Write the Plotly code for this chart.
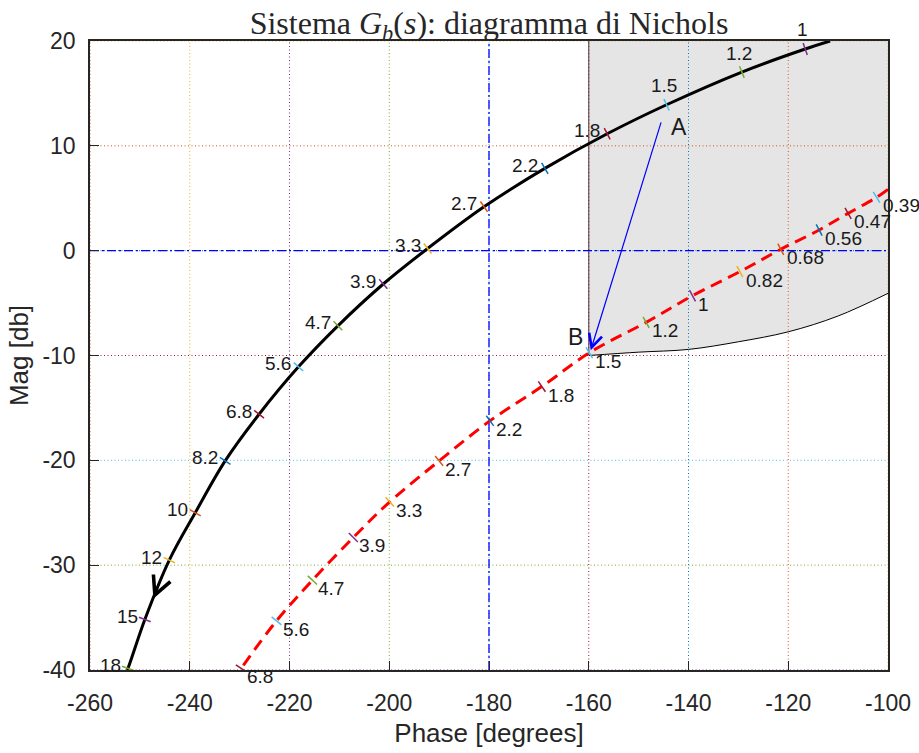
import math
import plotly.graph_objects as go

# ---------------- data ----------------
# black curve: frequency labels / phase [deg] / magnitude [dB]
black_freq = ["1", "1.2", "1.5", "1.8", "2.2", "2.7", "3.3", "3.9", "4.7", "5.6",
              "6.8", "8.2", "10", "12", "15", "18"]
black_phase = [-116.6, -129.3, -144.4, -156.3, -168.8, -181.0, -192.3, -201.2, -210.3,
               -218.2, -226.1, -232.9, -238.9, -244.1, -249.0, -252.4]
black_mag = [19.24, 17.04, 13.92, 11.15, 7.85, 4.19, 0.21, -3.18, -7.17, -11.08,
             -15.6, -20.05, -25.0, -29.52, -35.18, -39.84]
black_top_end = [-111.6, 20.0]
black_bottom_end = [-252.6, -40.0]

# red dashed curve
red_freq = ["0.39", "0.47", "0.56", "0.68", "0.82", "1", "1.2", "1.5", "1.8", "2.2",
            "2.7", "3.3", "3.9", "4.7", "5.6", "6.8"]
red_phase = [-102.3, -108.0, -113.8, -121.5, -129.7, -139.2, -148.5, -159.9, -169.4,
             -179.8, -190.0, -199.9, -207.2, -215.4, -222.6, -229.7]
red_mag = [5.09, 3.56, 1.97, 0.13, -2.0, -4.3, -6.84, -9.74, -12.96, -16.23,
           -20.05, -23.96, -27.36, -31.43, -35.31, -39.84]
red_right_end = [-100.0, 5.85]

# grey admissible region: lower boundary
region_phase = [-160, -150, -140, -130, -120, -110, -100]
region_mag = [-10.0, -9.68, -9.42, -8.69, -7.74, -6.23, -4.07]
region_top = 20

# points A and B, direction arrow on the black curve
A_point = [-144.9, 13.16]
B_point = [-159.6, -9.5]
A_label = [-141.95, 11.75]
B_label = [-162.7, -8.2]
dir_arrow_tip = [-247.3, -33.2]
dir_arrow_tail = [-244.6, -30.1]

x_ticks = [-260, -240, -220, -200, -180, -160, -140, -120, -100]
y_ticks = [20, 10, 0, -10, -20, -30, -40]

# ---------------- style ----------------
MC = ["#0072BD", "#D95319", "#EDB120", "#7E2F8E", "#77AC30", "#4DBEEE", "#A2142F"]
TXT = "#262626"
W, H = 919, 753
ML, MR, MT, MB = 90, 31, 41, 83
X0, X1, Y0, Y1 = -260, -100, -40, 20
kx = (W - ML - MR) / (X1 - X0)
ky = (H - MT - MB) / (Y1 - Y0)

fig = go.Figure()

# grey region: top edge, then lower boundary filled up to it
fig.add_trace(go.Scatter(x=[region_phase[0], region_phase[-1]], y=[region_top, region_top],
                         mode="lines", line=dict(width=0), hoverinfo="skip"))
fig.add_trace(go.Scatter(x=region_phase, y=region_mag, mode="lines", line_shape="spline",
                         fill="tonexty", fillcolor="#e5e5e5",
                         line=dict(color="black", width=1), hoverinfo="skip"))
fig.add_trace(go.Scatter(x=[region_phase[0], region_phase[0]], y=[region_mag[0], region_top],
                         mode="lines", line=dict(color="#5a5a5a", width=1.2), hoverinfo="skip"))

# coloured dotted grid lines (MATLAB colour cycle)
for i, xv in enumerate(x_ticks):
    fig.add_trace(go.Scatter(x=[xv, xv], y=[Y0, Y1], mode="lines",
                             line=dict(color=MC[(i + 1) % 7], width=1, dash="1px,2.5px"),
                             hoverinfo="skip"))
for i, yv in enumerate(y_ticks):
    fig.add_trace(go.Scatter(x=[X0, X1], y=[yv, yv], mode="lines",
                             line=dict(color=MC[(2 - i) % 7], width=1, dash="1px,2.5px"),
                             hoverinfo="skip"))

# blue dash-dot reference lines (-180 deg, 0 dB)
fig.add_trace(go.Scatter(x=[-180, -180], y=[Y0, Y1], mode="lines",
                         line=dict(color="#0000FF", width=1.3, dash="9px,3px,2px,3px"),
                         hoverinfo="skip"))
fig.add_trace(go.Scatter(x=[X0, X1], y=[0, 0], mode="lines",
                         line=dict(color="#0000FF", width=1.3, dash="9px,3px,2px,3px"),
                         hoverinfo="skip"))

# curves
rx = [red_right_end[0]] + red_phase
ry = [red_right_end[1]] + red_mag
fig.add_trace(go.Scatter(x=rx, y=ry, mode="lines", line_shape="spline",
                         line=dict(color="#FF0000", width=3, dash="12px,7px"),
                         hoverinfo="skip"))
bx = [black_top_end[0]] + black_phase + [black_bottom_end[0]]
by = [black_top_end[1]] + black_mag + [black_bottom_end[1]]
fig.add_trace(go.Scatter(x=bx, y=by, mode="lines", line_shape="spline",
                         line=dict(color="black", width=3), hoverinfo="skip"))


def tick_angles(xs, ys):
    ang = []
    for i in range(1, len(xs) - 1):
        dx = (xs[i + 1] - xs[i - 1]) * kx
        dy = -(ys[i + 1] - ys[i - 1]) * ky
        ang.append(math.degrees(math.atan2(dy, dx)))
    return ang


b_ang = tick_angles(bx, by)
r_ang = tick_angles(rx + [red_phase[-1] - 5], ry + [-44])
b_col = [MC[(3 + i) % 7] for i in range(len(black_freq))]
r_col = [MC[(5 + i) % 7] for i in range(len(red_freq))]
fig.add_trace(go.Scatter(x=black_phase, y=black_mag, mode="markers",
                         marker=dict(symbol="line-ns", size=9, angle=b_ang,
                                     line=dict(color=b_col, width=1.5)),
                         hoverinfo="skip"))
fig.add_trace(go.Scatter(x=red_phase, y=red_mag, mode="markers",
                         marker=dict(symbol="line-ns", size=9, angle=r_ang,
                                     line=dict(color=r_col, width=1.5)),
                         hoverinfo="skip"))

ann = []
lab_font = dict(family="Liberation Sans, Arial", size=19, color="#1a1a1a")
for i, (f, p, m) in enumerate(zip(black_freq, black_phase, black_mag)):
    if i < 3:
        ann.append(dict(x=p, y=m, text=f, showarrow=False, font=lab_font,
                        xanchor="center", yanchor="middle", xshift=-3, yshift=19))
    else:
        ann.append(dict(x=p, y=m, text=f, showarrow=False, font=lab_font,
                        xanchor="right", yanchor="middle", xshift=-5, yshift=3))
for f, p, m in zip(red_freq, red_phase, red_mag):
    ann.append(dict(x=p, y=m, text=f, showarrow=False, font=lab_font,
                    xanchor="left", yanchor="middle", xshift=4, yshift=-8.5))

big_font = dict(family="Liberation Sans, Arial", size=23, color="#1a1a1a")
ann.append(dict(x=A_label[0], y=A_label[1], text="A", showarrow=False, font=big_font))
ann.append(dict(x=B_label[0], y=B_label[1], text="B", showarrow=False, font=big_font))
ann.append(dict(x=B_point[0], y=B_point[1], ax=A_point[0], ay=A_point[1],
                xref="x", yref="y", axref="x", ayref="y", text=" ", showarrow=True,
                arrowhead=5, arrowsize=2.2, arrowwidth=1.2, arrowcolor="#0000FF"))
ann.append(dict(x=dir_arrow_tip[0], y=dir_arrow_tip[1], ax=dir_arrow_tail[0],
                ay=dir_arrow_tail[1], xref="x", yref="y", axref="x", ayref="y",
                text=" ", showarrow=True, arrowhead=5, arrowsize=3.6, arrowwidth=1,
                arrowcolor="black"))

tick_font = dict(family="Liberation Sans, Arial", size=23, color=TXT)
fig.update_layout(
    width=W, height=H,
    margin=dict(l=ML, r=MR, t=MT, b=MB, autoexpand=False),
    paper_bgcolor="white", plot_bgcolor="white",
    showlegend=False,
    annotations=ann,
    title=dict(text="Sistema <i>G<sub>b</sub></i>(<i>s</i>): diagramma di Nichols",
               font=dict(family="Liberation Serif", size=32, color=TXT),
               x=489 / W, xanchor="center", y=1 - 23 / H, yanchor="middle"),
    xaxis=dict(range=[X0, X1], tickvals=x_ticks, ticktext=[str(v) for v in x_ticks],
               ticks="inside", ticklen=9, tickwidth=1.2, tickcolor=TXT,
               showline=True, linecolor=TXT, linewidth=1.5, mirror=True,
               showgrid=False, zeroline=False, tickfont=tick_font,
               ticklabelstandoff=12, automargin=False,
               title=dict(text="Phase [degrees]", standoff=8,
                          font=dict(family="Liberation Sans, Arial", size=26, color=TXT))),
    yaxis=dict(range=[Y0, Y1], tickvals=y_ticks, ticktext=[str(v) for v in y_ticks],
               ticks="inside", ticklen=9, tickwidth=1.2, tickcolor=TXT,
               showline=True, linecolor=TXT, linewidth=1.5, mirror=True,
               showgrid=False, zeroline=False, tickfont=tick_font,
               ticklabelstandoff=8, automargin=False,
               title=dict(text="Mag [db]", standoff=6,
                          font=dict(family="Liberation Sans, Arial", size=26, color=TXT))),
)

fig.write_html("out.html")
